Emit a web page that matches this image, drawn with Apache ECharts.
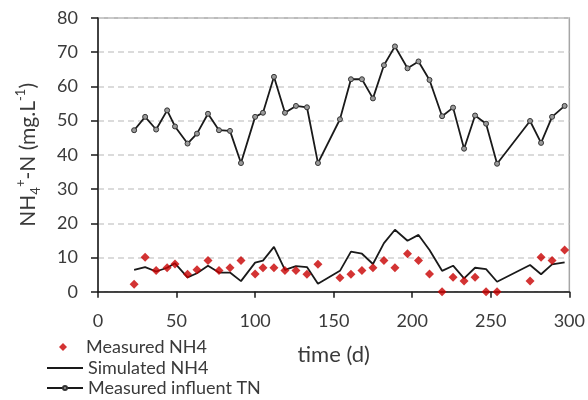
<!DOCTYPE html>
<html>
<head>
<meta charset="utf-8">
<script src="https://cdn.jsdelivr.net/npm/echarts@6/dist/echarts.min.js"></script>
<style>html,body{margin:0;padding:0;background:#fff}#c{width:588px;height:400px}</style>
</head>
<body>
<div id="c"></div>
<script>
// Sampling days (d)
const days = [23, 30, 37, 44, 49, 57, 63, 70, 77, 84, 91, 100, 105, 112, 119, 126, 133, 140, 154, 161, 168, 175, 182, 189, 197, 204, 211, 219, 226, 233, 240, 247, 254, 275, 282, 289, 297];
// Measured NH4 (mg/L)
const measuredNH4 = [2.2, 10.1, 6.2, 7.0, 8.1, 5.1, 6.4, 9.1, 6.2, 7.0, 9.1, 5.2, 7.0, 7.0, 6.2, 6.2, 5.1, 8.0, 4.1, 5.1, 6.2, 7.0, 9.1, 7.0, 11.1, 9.1, 5.2, 0, 4.2, 3.1, 4.2, 0, 0, 3.1, 10.1, 9.1, 12.2];
// Simulated NH4 (mg/L)
const simulatedNH4 = [6.4, 7.2, 5.9, 7.0, 8.3, 4.2, 5.4, 7.6, 5.6, 5.6, 3.1, 8.5, 9.1, 13.1, 6.4, 7.5, 7.2, 2.3, 6.1, 11.7, 11.1, 8.1, 14.2, 18.1, 14.9, 16.6, 12.2, 6.1, 7.6, 3.9, 7.0, 6.6, 2.9, 7.8, 5.1, 8.0, 8.6];
// Measured influent TN (mg/L)
const influentTN = [47.2, 51.1, 47.4, 53.0, 48.3, 43.3, 46.2, 52.0, 47.2, 47.0, 37.6, 51.1, 52.3, 62.8, 52.3, 54.3, 53.9, 37.6, 50.4, 62.1, 62.1, 56.5, 66.2, 71.7, 65.3, 67.3, 61.9, 51.3, 53.8, 41.8, 51.5, 49.1, 37.4, 49.9, 43.5, 51.1, 54.3];
const seriesNames = ['Measured NH4', 'Simulated NH4', 'Measured influent TN'];
const xName = 'time (d)';

const pair = arr => days.map((d, i) => [d, arr[i]]);
const FONT = 'Lato';
const TXT = '#3a3a3a';
const legendText = {fontFamily: FONT, fontSize: 18, color: TXT, lineHeight: 20};

const chart = echarts.init(document.getElementById('c'), null, {renderer: 'canvas'});
chart.setOption({
  animation: false,
  textStyle: {fontFamily: FONT},
  grid: {left: 98, right: 16.5, top: 18, bottom: 108.3, show: true, borderColor: '#a6a6a6', borderWidth: 1.5},
  legend: [
    {
      data: [{name: seriesNames[0], icon: 'diamond'}],
      orient: 'vertical', left: 59, top: 337, padding: 0,
      itemWidth: 8, itemHeight: 8,
      textStyle: Object.assign({}, legendText, {padding: [0, 0, 0, 14]})
    },
    {
      data: [seriesNames[1]],
      orient: 'vertical', left: 46, top: 358, padding: 0,
      itemWidth: 36, itemHeight: 2,
      textStyle: legendText
    },
    {
      data: [seriesNames[2]],
      orient: 'vertical', left: 46, top: 378, padding: 0,
      itemWidth: 36, itemHeight: 5,
      textStyle: legendText
    }
  ],
  xAxis: {
    type: 'value', min: 0, max: 300, interval: 50,
    name: xName, nameLocation: 'middle', nameGap: 52,
    nameTextStyle: {fontFamily: FONT, fontSize: 22, color: TXT},
    axisLine: {show: true, lineStyle: {color: '#1a1a1a', width: 1.5}},
    axisTick: {show: true, length: 6, lineStyle: {color: '#1a1a1a', width: 1.5}},
    axisLabel: {fontFamily: FONT, fontSize: 18, color: TXT, margin: 20},
    splitLine: {show: false}
  },
  yAxis: {
    type: 'value', min: 0, max: 80, interval: 10,
    name: '{a|NH}{sub|4}{sup|+}{a|-N (mg.L}{sup|-1}{a|)}',
    nameLocation: 'middle', nameRotate: 90, nameGap: 56,
    nameTextStyle: {
      fontFamily: FONT, fontSize: 21, color: TXT,
      rich: {
        a: {fontFamily: FONT, fontSize: 21, color: TXT, lineHeight: 28, verticalAlign: 'middle'},
        sub: {fontFamily: FONT, fontSize: 13, color: TXT, lineHeight: 28, verticalAlign: 'bottom'},
        sup: {fontFamily: FONT, fontSize: 13, color: TXT, lineHeight: 28, verticalAlign: 'top'}
      }
    },
    axisLine: {show: true, lineStyle: {color: '#1a1a1a', width: 1.5}},
    axisTick: {show: true, length: 7, lineStyle: {color: '#1a1a1a', width: 1.5}},
    axisLabel: {fontFamily: FONT, fontSize: 18, color: TXT, margin: 20},
    splitLine: {show: true, lineStyle: {color: '#d0d0d0', type: [6, 4], width: 1.5}}
  },
  series: [
    {
      name: seriesNames[0], type: 'scatter', data: pair(measuredNH4),
      symbol: 'diamond', symbolSize: 9, z: 5,
      itemStyle: {color: '#c80000'}
    },
    {
      name: seriesNames[1], type: 'line', data: pair(simulatedNH4),
      showSymbol: false, symbol: 'none', z: 3,
      lineStyle: {color: '#1a1a1a', width: 1.8},
      itemStyle: {color: '#1a1a1a'}
    },
    {
      name: seriesNames[2], type: 'line', data: pair(influentTN),
      symbol: 'circle', symbolSize: 5, showSymbol: true, z: 3,
      lineStyle: {color: '#1a1a1a', width: 1.8},
      itemStyle: {color: '#9a9a9a', borderColor: '#333', borderWidth: 1}
    }
  ]
});
</script>
</body>
</html>
